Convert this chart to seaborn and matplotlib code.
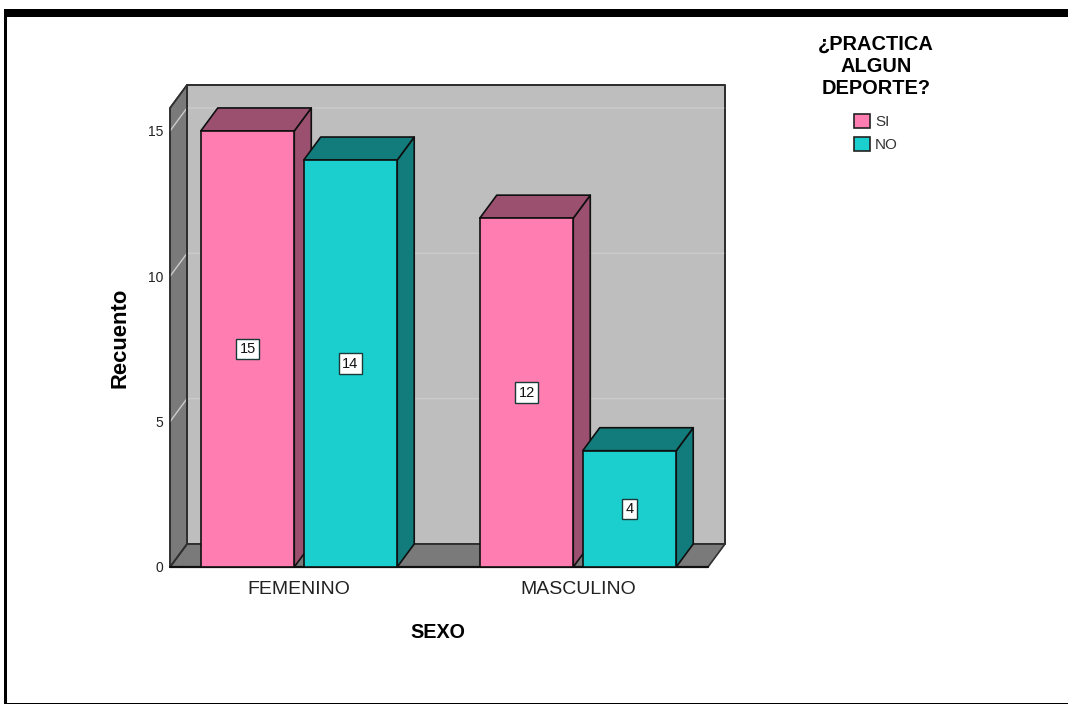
import matplotlib
matplotlib.use("Agg")
import matplotlib.pyplot as plt
from matplotlib.patches import Polygon, Rectangle, Patch
import pandas as pd
import seaborn as sns

categories = ["FEMENINO", "MASCULINO"]
series_names = ["SI", "NO"]
si_values = [15, 12]
no_values = [14, 4]
y_ticks = [0, 5, 10, 15]
x_title = "SEXO"
y_title = "Recuento"
legend_title = "¿PRACTICA\nALGUN\nDEPORTE?"

PINK, TEAL = "#FF7DB1", "#1CCFCF"
PINK_DK, TEAL_DK = "#9C5070", "#127C7C"
WALL, SIDE, GRID = "#BEBEBE", "#7A7A7A", "#CBCBCB"
EDGE = "#101010"

W, H = 1068, 704
sns.set_theme(style="white")
plt.rcParams["font.family"] = ["Liberation Sans", "DejaVu Sans"]

df = pd.DataFrame({
    "SEXO": categories * 2,
    "serie": [series_names[0]] * 2 + [series_names[1]] * 2,
    "n": si_values + no_values,
})

fig = plt.figure(figsize=(W / 100, H / 100), dpi=100, facecolor="white")
# axes box = front plane of the 3D chart, in pixels
L, R, T, B = 170, 708, 108, 567
ax = fig.add_axes([L / W, 1 - B / H, (R - L) / W, (B - T) / H])
ax.set_facecolor("none")
sns.barplot(data=df, x="SEXO", y="n", hue="serie", order=categories,
            hue_order=series_names, palette=[PINK, TEAL], saturation=1,
            width=0.738, gap=0.092, edgecolor=EDGE, linewidth=1.2,
            legend=False, ax=ax)

px_x = 279.0                      # pixels per category
ax.set_xlim(-(299 - L) / px_x, (R - 299) / px_x)
ax.set_ylim(0, (B - T) / 29.07)
dx = 17 / px_x
dy = 23 / 29.07
x0, x1 = ax.get_xlim()
y1 = ax.get_ylim()[1]


def poly(pts, fc, z, ec=EDGE, lw=1.2):
    p = Polygon(pts, closed=True, facecolor=fc, edgecolor=ec, linewidth=lw,
                zorder=z, clip_on=False, joinstyle="round")
    ax.add_patch(p)


# chamber: back wall, floor, left wall
poly([(x0 + dx, dy), (x1 + dx, dy), (x1 + dx, y1 + dy), (x0 + dx, y1 + dy)], WALL, 0.5)
poly([(x0, 0), (x1, 0), (x1 + dx, dy), (x0 + dx, dy)], SIDE, 0.6, ec="#303030")
poly([(x0, 0), (x0 + dx, dy), (x0 + dx, y1 + dy), (x0, y1)], SIDE, 0.6, ec="#303030")
for t in y_ticks[1:]:
    ax.plot([x0, x0 + dx, x1 + dx], [t, t + dy, t + dy], color=GRID, lw=1.0,
            zorder=0.7, clip_on=False)
poly([(x0 + dx, dy), (x1 + dx, dy), (x1 + dx, y1 + dy), (x0 + dx, y1 + dy)], "none", 0.8, ec="#303030")
poly([(x0, 0), (x0 + dx, dy), (x0 + dx, y1 + dy), (x0, y1)], "none", 0.8, ec="#303030")
ax.plot([x0, x1], [0, 0], color=EDGE, lw=1.6, zorder=1, clip_on=False)

# bars: front face from seaborn, side and top from each patch's geometry
for c_i, (container, dark) in enumerate(zip(ax.containers, [PINK_DK, TEAL_DK])):
    for b_i, bar in enumerate(container):
        z = 3 + 2 * b_i + c_i
        l, r = bar.get_x(), bar.get_x() + bar.get_width()
        h = bar.get_height()
        poly([(r, 0), (r + dx, dy), (r + dx, h + dy), (r, h)], dark, z)
        poly([(l, h), (r, h), (r + dx, h + dy), (l + dx, h + dy)], dark, z)
        bar.set_zorder(z + 0.5)
        bar.set_clip_on(False)
    labels = ax.bar_label(container, label_type="center", fontsize=10.5,
                          color="#111111", zorder=20,
                          bbox=dict(boxstyle="square,pad=0.22", fc="white",
                                    ec="#1a3a3a", lw=1.0))

ax.set_yticks(y_ticks)
ax.tick_params(axis="both", length=0)
ax.tick_params(axis="y", labelsize=10, labelcolor="#222222", pad=5)
ax.tick_params(axis="x", labelsize=14, labelcolor="#222222", pad=10)
sns.despine(ax=ax, left=True, bottom=True)
ax.set_xlabel(x_title, fontsize=14.2, fontweight="bold", color="black", va="center")
ax.set_ylabel(y_title, fontsize=15.8, fontweight="bold", color="black", va="center")
ax.xaxis.set_label_coords((438 - L) / (R - L), -(632 - B) / (B - T))
ax.yaxis.set_label_coords((120 - L) / (R - L), 0.5)

handles = [Patch(facecolor=PINK, edgecolor="#222222", lw=1.2),
           Patch(facecolor=TEAL, edgecolor="#222222", lw=1.2)]
leg = fig.legend(handles, series_names, title=legend_title, frameon=False,
                 loc="upper center", bbox_to_anchor=(876 / W, 1 - 24 / H),
                 fontsize=11, title_fontproperties={"size": 14.4, "weight": "bold"},
                 handlelength=1.05, handleheight=1.05, handletextpad=0.3,
                 labelspacing=0.5, borderpad=0.2)
leg.get_title().set_linespacing(1.22)
leg.get_title().set_multialignment("center")
leg.get_title().set_color("black")
leg._legend_box.sep = 11
for t in leg.get_texts():
    t.set_color("#333333")

# screenshot frame, in figure pixels
for x, y, w, h in [(3.5, 9, W - 3.5, 7.5), (3.5, 9, 3.8, H - 9), (3.5, H - 1.5, W - 3.5, 1.5)]:
    fig.add_artist(Rectangle((x / W, 1 - (y + h) / H), w / W, h / H,
                             transform=fig.transFigure, fc="black", ec="none"))

fig.savefig("out.png", dpi=100)
